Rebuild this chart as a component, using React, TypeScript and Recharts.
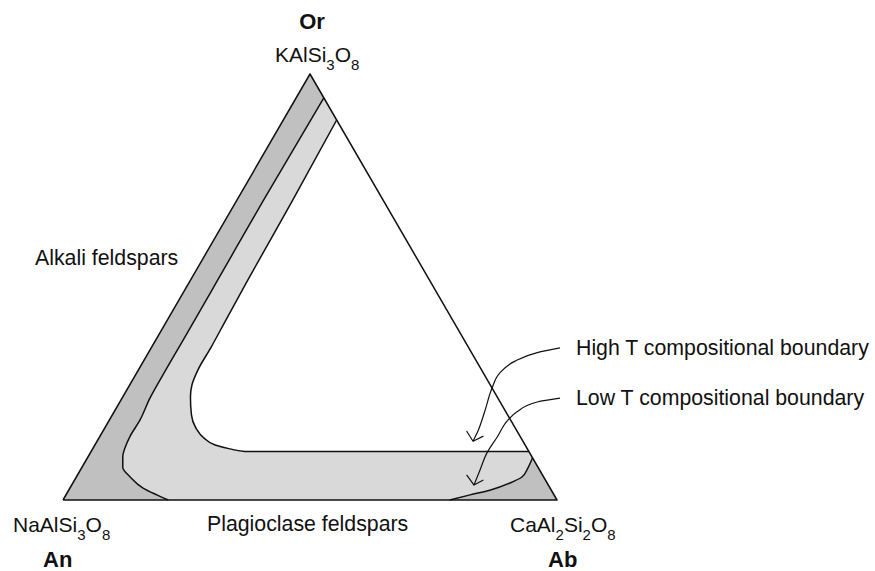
import React from 'react';
import { ComposedChart, Scatter, XAxis, YAxis } from 'recharts';

// x: position along the An–Ab base (0–100), y: height towards Or (0–100)
const triangle = [
  { x: 0, y: 0 },
  { x: 50, y: 100 },
  { x: 100, y: 0 },
];

// left band boundary, from the Or–Ab edge down to the base
const alkaliBoundary = [
  { x: 52.8, y: 94.4 },
  { x: 40.6, y: 70.4 },
  { x: 31.3, y: 51.6 },
  { x: 24.7, y: 38.3 },
  { x: 20.0, y: 28.9 },
  { x: 17.6, y: 23.9 },
  { x: 15.6, y: 18.8 },
  { x: 13.6, y: 15.0 },
  { x: 12.6, y: 12.4 },
  { x: 12.1, y: 10.1 },
  { x: 12.1, y: 7.7 },
  { x: 13.6, y: 5.4 },
  { x: 16.2, y: 2.8 },
  { x: 19.0, y: 1.2 },
  { x: 21.3, y: 0 },
];

// high T boundary, Or–Ab edge round to the flat plagioclase limb
const highTBoundary = [
  { x: 55.4, y: 89.2 },
  { x: 46.5, y: 70.4 },
  { x: 37.4, y: 51.6 },
  { x: 33.0, y: 42.3 },
  { x: 30.0, y: 35.9 },
  { x: 27.3, y: 30.5 },
  { x: 26.1, y: 27.0 },
  { x: 25.8, y: 24.2 },
  { x: 26.0, y: 20.0 },
  { x: 26.9, y: 16.9 },
  { x: 28.5, y: 14.6 },
  { x: 30.8, y: 12.9 },
  { x: 33.8, y: 12.0 },
  { x: 36.8, y: 11.4 },
  { x: 94.3, y: 11.4 },
];

// low T boundary near the Ab corner (starting from the corner itself)
const abCorner = [{ x: 100, y: 0 }];
const lowTBoundary = [
  { x: 78.3, y: 0 },
  { x: 82.4, y: 1.2 },
  { x: 86.4, y: 2.3 },
  { x: 90.5, y: 4.0 },
  { x: 92.9, y: 5.4 },
  { x: 94.1, y: 7.5 },
  { x: 95.05, y: 9.9 },
];

const highTArrow = [
  { x: 100.6, y: 35.7 },
  { x: 96.0, y: 34.6 },
  { x: 91.5, y: 32.6 },
  { x: 88.4, y: 29.8 },
  { x: 86.8, y: 26.1 },
  { x: 85.4, y: 20.9 },
  { x: 84.0, y: 16.2 },
  { x: 83.0, y: 13.8 },
];
const highTHead = [
  { x: 81.7, y: 16.2 },
  { x: 83.0, y: 13.8 },
  { x: 85.1, y: 15.0 },
];

const lowTArrow = [
  { x: 100.6, y: 23.9 },
  { x: 96.0, y: 23.0 },
  { x: 91.9, y: 20.7 },
  { x: 90.1, y: 18.8 },
  { x: 87.9, y: 14.8 },
  { x: 85.8, y: 11.0 },
  { x: 84.4, y: 7.0 },
  { x: 83.2, y: 3.5 },
];
const lowTHead = [
  { x: 81.7, y: 5.9 },
  { x: 83.2, y: 3.5 },
  { x: 85.1, y: 4.7 },
];

const DARK = '#c0c0c0';
const LIGHT = '#d9d9d9';
const INK = '#111';
const FONT = '"Liberation Sans", Arial, sans-serif';

type Pt = { x: number; y: number };

const NoDot = () => <g />;

const fillShape = (key: string, data: Pt[], fill: string, curve = 'monotoneY') => (
  <Scatter
    key={key}
    data={data}
    fill={fill}
    line={{ fill, stroke: 'none' }}
    lineJointType={curve as any}
    shape={NoDot}
    legendType="none"
    isAnimationActive={false}
  />
);

const strokeShape = (key: string, data: Pt[], width = 1.5, curve = 'monotoneY') => (
  <Scatter
    key={key}
    data={data}
    fill="none"
    line={{ fill: 'none', stroke: INK, strokeWidth: width, strokeLinejoin: 'round' }}
    lineJointType={curve as any}
    shape={NoDot}
    legendType="none"
    isAnimationActive={false}
  />
);

export default function App() {
  return (
    <div style={{ position: 'absolute', left: 0, top: 0, width: 875, height: 571, background: '#fff' }}>
      <ComposedChart width={875} height={571} margin={{ top: 74, right: 219.2, bottom: 71, left: 63 }}>
        <XAxis type="number" dataKey="x" domain={[0, 120]} hide />
        <YAxis type="number" dataKey="y" domain={[0, 100]} hide />

        {fillShape('tri', triangle, DARK, 'linear')}
        {fillShape('light', [...alkaliBoundary, ...abCorner], LIGHT)}
        {fillShape('white', highTBoundary, '#ffffff')}
        {fillShape('corner', [...abCorner, ...lowTBoundary], DARK)}

        {strokeShape('edges', [...triangle, triangle[0]], 1.5, 'linear')}
        {strokeShape('alkali', alkaliBoundary)}
        {strokeShape('highT', highTBoundary)}
        {strokeShape('lowT', lowTBoundary)}
        {strokeShape('arrowHigh', highTArrow, 1.2)}
        {strokeShape('headHigh', highTHead, 1.2, 'linear')}
        {strokeShape('arrowLow', lowTArrow, 1.2)}
        {strokeShape('headLow', lowTHead, 1.2, 'linear')}

        <g style={{ fontFamily: FONT }} fill="#111">
          <text x={312} y={29} textAnchor="middle" fontWeight="bold" fontSize={22}>Or</text>
          <text x={275} y={62} fontSize={21}>
            KAlSi<tspan dy={8} fontSize={15}>3</tspan>
            <tspan dy={-8} fontSize={21}>O</tspan>
            <tspan dy={8} fontSize={15}>8</tspan>
          </text>
          <text x={35} y={265} fontSize={21.3}>Alkali feldspars</text>
          <text x={13} y={532} fontSize={21}>
            NaAlSi<tspan dy={8} fontSize={15}>3</tspan>
            <tspan dy={-8} fontSize={21}>O</tspan>
            <tspan dy={8} fontSize={15}>8</tspan>
          </text>
          <text x={43} y={567} fontWeight="bold" fontSize={22}>An</text>
          <text x={207} y={531} fontSize={21.3}>Plagioclase feldspars</text>
          <text x={510} y={532} fontSize={21}>
            CaAl<tspan dy={8} fontSize={15}>2</tspan>
            <tspan dy={-8} fontSize={21}>Si</tspan>
            <tspan dy={8} fontSize={15}>2</tspan>
            <tspan dy={-8} fontSize={21}>O</tspan>
            <tspan dy={8} fontSize={15}>8</tspan>
          </text>
          <text x={548} y={567} fontWeight="bold" fontSize={22}>Ab</text>
          <text x={576} y={355} fontSize={21.3}>High T compositional boundary</text>
          <text x={576} y={405} fontSize={21.3}>Low T compositional boundary</text>
        </g>
      </ComposedChart>
    </div>
  );
}
